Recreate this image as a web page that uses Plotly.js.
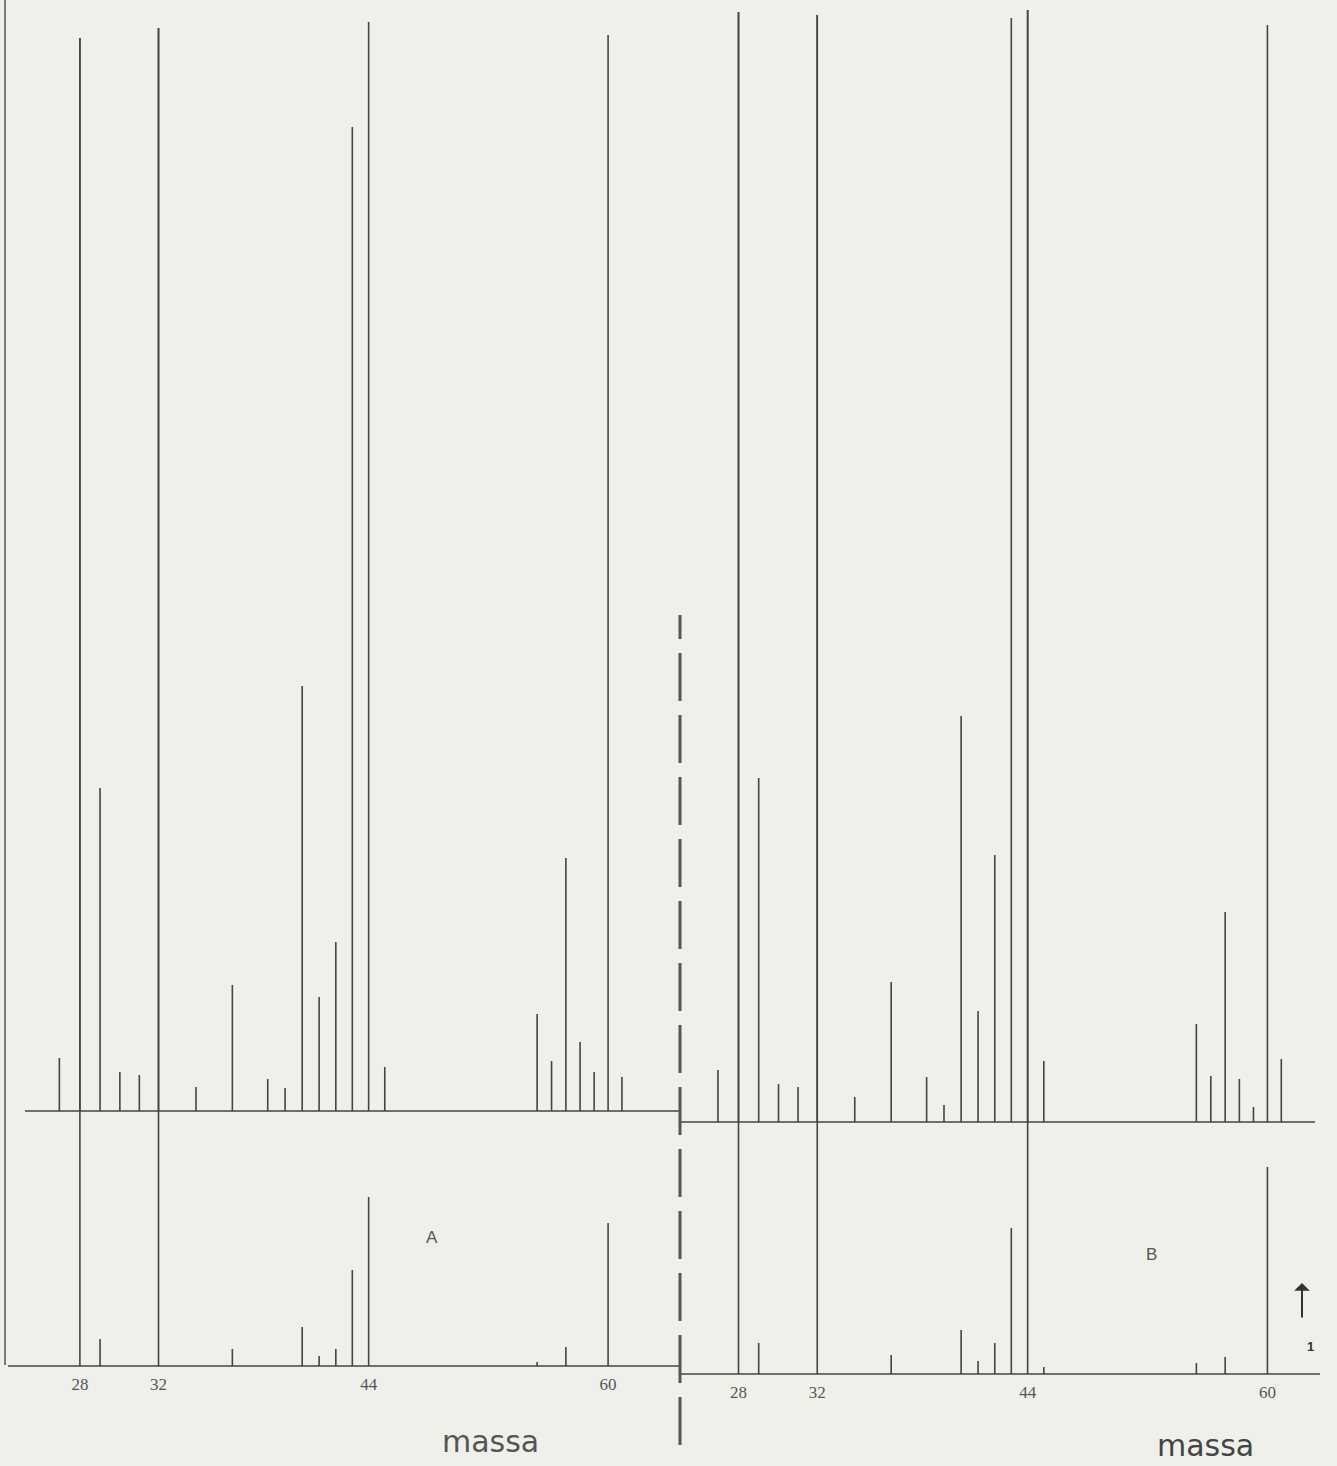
<!DOCTYPE html>
<html>
<head>
<meta charset="utf-8">
<script src="https://cdn.plot.ly/plotly-3.0.1.min.js"></script>
<style>
  html, body { margin: 0; padding: 0; background: #f0f0eb; }
  #chart { width: 1337px; height: 1466px; }
</style>
</head>
<body>
<div id="chart"></div>
<script>
// ---- Data (intensities in chart divisions) ----
// Panel A, high-sensitivity (upper) trace
const massA_hi = [27, 28, 29, 30, 31, 32, 34, 36, 38, 39, 40, 41, 42, 43, 44, 45, 55, 56, 57, 58, 59, 60, 61];
const intA_hi  = [5.3, 107.3, 32.3, 3.9, 3.6, 108.3, 2.4, 12.6, 3.2, 2.3, 42.5, 11.4, 16.9, 98.4, 108.9, 4.4, 9.7, 5.0, 25.3, 6.9, 3.9, 107.6, 3.4];
// Panel A, low-sensitivity (lower) trace
const massA_lo = [28, 29, 32, 36, 40, 41, 42, 43, 44, 55, 57, 60];
const intA_lo  = [132.8, 2.7, 133.8, 1.7, 3.9, 1.0, 1.7, 9.6, 16.9, 0.4, 1.9, 14.3];
// Panel B, high-sensitivity (upper) trace
const massB_hi = [27, 28, 29, 30, 31, 32, 34, 36, 38, 39, 40, 41, 42, 43, 44, 45, 55, 56, 57, 58, 59, 60, 61];
const intB_hi  = [5.2, 111.0, 34.4, 3.8, 3.5, 110.7, 2.5, 14.0, 4.5, 1.7, 40.6, 11.1, 26.7, 110.4, 111.2, 6.1, 9.8, 4.6, 21.0, 4.3, 1.5, 109.7, 6.3];
// Panel B, low-sensitivity (lower) trace
const massB_lo = [28, 29, 32, 36, 40, 41, 42, 43, 44, 45, 55, 57, 60];
const intB_lo  = [136.2, 3.1, 135.9, 1.9, 4.4, 1.3, 3.1, 14.6, 136.4, 0.7, 1.1, 1.7, 20.7];
// Tick labels
const tickMasses = [28, 32, 44, 60];
const tickLabels = ['28', '32', '44', '60'];
const panelLabels = ['A', 'B'];
const axisLabel = 'massa';

// ---- Helpers ----
// magnetic-scan recorder: chart position is proportional to sqrt(mass)
const pos = m => Math.sqrt(m);
function spikes(masses, vals, sStart, sEnd, xa, ya) {
  const x = [sStart], y = [0];
  masses.forEach((m, i) => { const s = pos(m); x.push(s, s, s); y.push(0, vals[i], 0); });
  x.push(sEnd); y.push(0);
  return { type: 'scatter', mode: 'lines', x, y, xaxis: xa, yaxis: ya,
           line: { color: '#444', width: 1.6 }, hoverinfo: 'skip', showlegend: false };
}

const W = 1337, H = 1466;
const px = v => v / W, py = v => 1 - v / H;

const traces = [
  spikes(massA_lo, intA_lo, 4.9575, 8.0801, 'x', 'y'),
  spikes(massA_hi, intA_hi, 5.0364, 8.0801, 'x', 'y2'),
  spikes(massB_lo, intB_lo, 5.0200, 7.9899, 'x2', 'y3'),
  spikes(massB_hi, intB_hi, 5.0200, 7.9667, 'x2', 'y4')
];

const tickfont = { family: 'Liberation Serif, serif', size: 17, color: '#555' };
const xcommon = { showgrid: false, zeroline: false, showline: false, ticks: '',
  tickvals: tickMasses.map(pos), ticktext: tickLabels, tickfont, fixedrange: true };
const ycommon = { visible: false, showgrid: false, zeroline: false, fixedrange: true };

function label(text, x, y, font) {
  return { text, xref: 'paper', yref: 'paper', x: px(x), y: py(y), xanchor: 'center', yanchor: 'middle',
           showarrow: false, font };
}

const layout = {
  width: W, height: H,
  margin: { l: 0, r: 0, t: 0, b: 0 },
  paper_bgcolor: '#f0f0eb', plot_bgcolor: 'rgba(0,0,0,0)',
  showlegend: false,
  xaxis:  Object.assign({}, xcommon, { domain: [px(5), px(680)], range: [4.9435, 8.0801], anchor: 'y' }),
  xaxis2: Object.assign({}, xcommon, { domain: [px(680), px(1320)], range: [5.0200, 7.9899], anchor: 'y3' }),
  yaxis:  Object.assign({}, ycommon, { domain: [1 - 1372 / H, 1], range: [-0.6, 136.6], anchor: 'x' }),
  yaxis2: Object.assign({}, ycommon, { overlaying: 'y', range: [-26.1, 111.1], anchor: 'x' }),
  yaxis3: Object.assign({}, ycommon, { domain: [1 - 1380 / H, 1], range: [-0.6, 137.4], anchor: 'x2' }),
  yaxis4: Object.assign({}, ycommon, { overlaying: 'y3', range: [-25.8, 112.2], anchor: 'x2' }),
  shapes: [
    { type: 'line', xref: 'paper', yref: 'paper', x0: px(680), x1: px(680), y0: py(1445), y1: py(615),
      line: { color: '#555', width: 3, dash: '48px,14px' } },
    { type: 'line', xref: 'paper', yref: 'paper', x0: px(5), x1: px(5), y0: py(1365), y1: 1,
      line: { color: '#555', width: 1.5 } }
  ],
  annotations: [
    label(panelLabels[0], 432, 1237, { family: 'Liberation Sans, sans-serif', size: 17, color: '#555' }),
    label(panelLabels[1], 1151, 1254, { family: 'Liberation Sans, sans-serif', size: 17, color: '#555' }),
    label(axisLabel, 490, 1441, { family: 'DejaVu Sans, sans-serif', size: 30, color: '#555' }),
    label(axisLabel, 1205, 1445, { family: 'DejaVu Sans, sans-serif', size: 30, color: '#444' }),
    { text: '', xref: 'paper', yref: 'paper', x: px(1302), y: py(1283), ax: 0, ay: 36,
      showarrow: true, arrowhead: 1, arrowsize: 1.3, arrowwidth: 2, arrowcolor: '#333' },
    label('<b>1</b>', 1310, 1346, { family: 'Liberation Sans, sans-serif', size: 13, color: '#333' })
  ]
};

Plotly.newPlot('chart', traces, layout, { staticPlot: true, displayModeBar: false });
</script>
</body>
</html>
